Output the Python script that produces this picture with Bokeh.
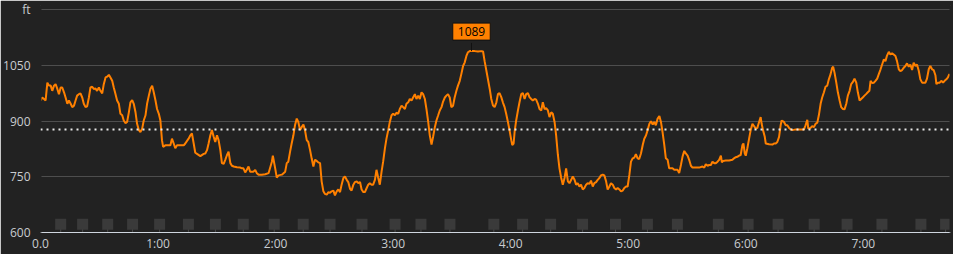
from bokeh.plotting import figure
from bokeh.models import FixedTicker, Label, Span, Range1d, LinearAxis
from bokeh.embed import file_html
from bokeh.resources import INLINE

# ---- data (time in minutes, elevation in feet) ----
minutes = [
    0.0, 0.9, 1.8, 2.6, 3.5, 4.3, 5.2, 6.0, 6.9, 7.7, 8.6, 9.4, 10.3, 11.1, 12.0, 12.8, 13.7, 14.5, 15.4, 16.2,
    17.1, 17.9, 18.7, 19.6, 20.4, 21.3, 22.1, 23.0, 23.8, 24.7, 25.5, 26.4, 27.2, 28.1, 28.9, 29.8, 30.6, 31.5,
    32.3, 33.2, 34.0, 34.9, 35.7, 36.6, 37.4, 38.3, 39.1, 40.0, 40.8, 41.7, 42.5, 43.4, 44.2, 45.1, 45.9, 46.8,
    47.6, 48.5, 49.3, 50.2, 51.0, 51.9, 52.7, 53.6, 54.4, 55.3, 56.1, 57.0, 57.8, 58.7, 59.5, 60.4, 61.2, 62.0,
    62.6, 63.7, 65.4, 66.3, 67.1, 68.0, 68.8, 69.7, 71.4, 73.1, 73.9, 74.8, 75.6, 76.5, 77.3, 78.2, 79.0, 79.9,
    81.6, 83.3, 84.1, 85.0, 85.8, 86.7, 87.5, 88.4, 89.2, 90.1, 90.9, 91.8, 92.6, 93.5, 94.3, 95.2, 96.0, 96.9,
    97.7, 98.6, 100.3, 102.0, 102.8, 103.6, 104.5, 105.3, 106.2, 107.0, 107.9, 108.7, 109.6, 110.4, 111.3, 113.0,
    114.7, 116.4, 118.1, 118.6, 119.8, 120.6, 121.5, 123.2, 124.9, 125.7, 126.5, 127.4, 128.2, 129.1, 129.9,
    130.8, 131.6, 132.5, 133.3, 134.2, 135.0, 135.9, 136.7, 137.6, 138.4, 139.3, 140.1, 141.0, 141.8, 142.7,
    143.5, 144.4, 145.2, 146.1, 147.0, 147.8, 148.6, 149.5, 150.3, 151.2, 152.0, 152.9, 153.7, 154.6, 155.4,
    156.3, 157.1, 158.0, 158.8, 159.7, 160.5, 161.4, 162.2, 163.1, 163.9, 164.8, 165.6, 166.5, 167.3, 168.1,
    169.0, 169.8, 170.7, 171.5, 172.4, 173.2, 174.1, 174.9, 175.8, 176.6, 177.5, 178.3, 179.2, 180.0, 180.9,
    181.7, 182.6, 183.4, 184.3, 185.1, 186.0, 186.8, 187.7, 188.5, 189.4, 190.2, 191.1, 191.9, 192.8, 193.6,
    194.5, 195.3, 196.2, 197.0, 197.9, 198.7, 199.6, 200.4, 201.3, 202.1, 203.0, 203.8, 204.7, 205.5, 206.4,
    207.2, 208.0, 208.9, 209.7, 210.6, 211.4, 212.3, 213.1, 214.0, 214.8, 215.7, 216.5, 217.4, 218.2, 219.1,
    219.9, 221.6, 223.3, 225.0, 225.9, 226.7, 227.6,
    229.3, 230.1, 231.0, 231.8, 232.7, 233.5, 234.3, 235.2, 236.0, 236.9, 237.7, 238.6, 239.4, 240.3, 240.8,
    241.5, 242.0, 242.8, 243.7, 244.5, 245.4, 246.2, 247.1, 247.9, 248.8, 249.6, 250.5, 251.3, 252.2, 253.0,
    253.9, 254.7, 255.6, 256.4, 257.3, 258.1, 259.0, 259.8, 260.7, 261.5, 262.4, 263.2, 264.1, 264.9, 265.8,
    266.6, 267.5, 268.3, 269.2, 270.0, 270.9, 271.7, 272.6, 273.4, 274.2, 275.1, 275.9, 276.8, 277.6, 278.5,
    279.3, 280.2, 281.0, 281.9, 282.7, 283.6, 284.4, 285.3, 286.1, 287.0, 287.8, 288.7, 289.5, 290.4, 291.2,
    292.1, 292.9, 293.8, 294.6, 295.5, 296.3, 297.2, 298.0, 298.9, 299.7, 300.6, 301.4, 302.3, 303.1, 303.9,
    304.8, 305.6, 306.5, 307.4, 308.2, 309.1, 309.9, 310.8, 311.6, 312.5, 313.3, 314.1, 315.0, 315.9, 316.7,
    317.5, 318.4, 319.2, 320.1, 320.9, 321.8, 322.6, 323.5, 324.3, 325.2, 326.0, 326.9, 327.7, 328.6, 329.4,
    330.3, 331.1, 332.0, 332.8, 334.5, 336.2, 337.9, 338.8, 339.6, 340.5, 341.3, 342.2, 343.0, 343.9, 344.7,
    345.6, 346.4, 347.3,
    347.8, 348.4, 349.8, 351.5, 353.2, 354.0, 354.9, 355.7, 356.6, 357.4, 358.3, 358.8, 359.5, 360.0, 360.8,
    361.7, 362.5, 363.4, 364.2, 365.1, 365.9, 366.8, 367.6, 368.1, 368.8, 369.7, 370.2, 371.9, 373.6, 374.4,
    375.3, 376.1, 377.0, 377.8, 378.3, 379.5, 380.4, 381.2, 382.1, 382.9, 383.8, 385.5, 387.2, 388.8, 389.7,
    390.5, 391.4, 391.9, 393.1, 393.9, 394.8, 395.6, 396.5, 397.3, 398.2, 399.0, 399.9, 400.7, 401.6, 402.4,
    403.3, 404.1, 404.6, 405.3, 406.2, 407.0, 407.9, 408.7, 409.6, 410.4, 411.3, 412.1, 413.0, 413.8, 414.7,
    415.5, 416.4, 417.2, 418.1, 418.9, 419.7, 420.6, 421.4, 422.3, 423.1, 423.7, 424.5, 425.4, 426.2, 427.1,
    427.9, 428.8, 429.6, 430.5, 431.3, 432.1, 433.0, 433.8, 434.7, 435.5, 436.4, 437.2, 438.1, 438.9, 439.8,
    440.6, 441.5, 442.3, 443.2, 444.0, 444.9, 445.7, 446.6, 447.4, 448.3, 449.1, 450.0, 451.7, 452.5, 453.4,
    454.2, 455.1, 455.9, 456.8, 457.3, 458.1, 459.0, 459.8, 460.7, 461.5, 462.4, 463.2, 463.9, 464.4,
]
elevation_ft = [
    956, 964, 960, 956, 1004, 996, 996, 982, 996, 1000, 987, 973, 991, 991, 978, 964, 947, 956, 947, 938,
    942, 956, 969, 973, 975, 964, 947, 938, 940, 964, 991, 993, 987, 988, 982, 991, 982, 975,
    1000, 1018, 1020, 1025, 1018, 1009, 991, 973, 956, 947, 920, 916, 902, 895, 898, 924, 951, 957,
    947, 924, 893, 876, 871, 880, 902, 916, 947, 969, 987, 996, 978, 956, 933, 920, 902, 849,
    831, 835, 835, 835, 853, 840, 827, 835, 835, 835, 840, 847, 853, 862, 867, 840, 815, 812,
    806, 812, 813, 822, 840, 862, 876, 858, 844, 862, 849, 822, 787, 785, 796, 809, 818, 787,
    780, 778, 776, 775, 773, 773, 762, 769, 778, 764, 764, 764, 769, 760, 756, 756,
    757, 760, 791, 807, 773, 748, 754, 756, 764, 787, 791, 818, 840, 862, 889,
    907, 898, 876, 884, 891, 876, 849, 844, 822, 800, 778, 796, 793, 789, 787,
    738, 711, 704, 702, 709, 707, 711, 713, 700, 711, 716, 709, 729, 747, 751,
    742, 736, 718, 713, 729, 736, 738, 733, 736, 716, 709, 709, 720, 729, 733,
    729, 729, 742, 769, 747, 729, 764, 791, 827, 853, 876, 898, 916, 920, 916,
    923, 920, 933, 942, 938, 933, 947, 951, 960, 956, 964, 973, 960, 969, 960,
    978, 973, 960, 933, 898, 862, 837, 858, 884, 902, 916, 929, 938, 953, 964,
    969, 973, 964, 938, 942, 964, 982, 996, 1009, 1027, 1049, 1058, 1076, 1086, 1089,
    1089, 1089, 1088, 1089, 1088, 1062, 1036,
    987, 960, 942, 938, 951, 973, 976, 965, 951, 938, 920, 898, 876, 849, 836,
    840, 871, 902, 929, 951, 973, 976, 960, 973, 976, 965, 960, 956, 960, 958,
    947, 933, 929, 951, 933, 935, 929, 911, 924, 920, 898, 862, 809, 773, 747,
    729, 747, 773, 738, 733, 742, 751, 742, 729, 733, 724, 729, 716, 720, 729,
    733, 731, 740, 724, 733, 736, 742, 747, 754, 756, 754, 738, 716, 724, 733,
    729, 720, 716, 720, 716, 711, 713, 720, 724, 724, 756, 791, 800, 802, 811,
    800, 798, 813, 836, 853, 862, 876, 893, 900, 891, 898, 889, 907, 914, 898,
    871, 836, 800, 796, 773, 773, 773, 769, 769, 769, 760, 782, 804, 820, 813,
    807, 796, 780, 775, 775, 775, 778, 775, 784, 780, 782, 782, 791, 787, 787,
    791, 796, 807,
    789, 793, 794, 794, 796, 800, 803, 804, 807, 809, 836, 840, 813, 807, 827,
    853, 876, 893, 887, 880, 882, 898, 911, 893, 876, 858, 840, 838, 837, 840,
    840, 844, 858, 889, 902, 898, 889, 889, 882, 878, 876, 878, 878, 878, 878,
    889, 904, 880, 882, 887, 884, 893, 896, 916, 947, 964, 978, 993, 996, 1013,
    1027, 1044, 1047, 1031, 1004, 978, 956, 938, 933, 932, 947, 969, 982, 1000, 1006,
    1015, 1004, 978, 956, 960, 964, 969, 973, 978, 982, 1009, 1003, 1004, 1009, 1015,
    1027, 1040, 1053, 1067, 1062, 1077, 1087, 1080, 1083, 1080, 1076, 1062, 1040, 1035, 1038,
    1044, 1049, 1056, 1047, 1053, 1038, 1058, 1049, 1053, 1036, 1013, 1004, 1004, 1015, 1040,
    1049, 1040, 1038, 1024, 1000, 1004, 1004, 1009, 1004, 1009, 1013, 1018, 1027, 1022,
]
lap_marks_min = [10.3, 21.5, 34.3, 47.0, 60.8, 75.5, 89.3, 103.5, 119.3, 134.1, 147.8, 164.1, 181.0, 194.2,
                 209.0, 231.4, 246.1, 260.4, 276.7, 293.5, 309.8, 325.1, 346.0, 361.2, 376.5, 394.9, 411.7,
                 429.5, 449.4, 462.0]
avg_elevation_ft = 878
peak_min = 220
peak_ft = 1089
x_ticks = [0, 60, 120, 180, 240, 300, 360, 420]
x_labels = ["0.0", "1:00", "2:00", "3:00", "4:00", "5:00", "6:00", "7:00"]
y_ticks = [600, 750, 900, 1050, 1200]
y_labels = ["600", "750", "900", "1050", "ft"]

# ---- styles ----
BG = "#222222"
GRID = "#4e4e4e"
TXT = "#c9ccd0"
ORANGE = "#ff8000"
FONT = "Open Sans"

p = figure(width=953, height=254, output_backend="svg", toolbar_location=None,
           x_range=Range1d(0, 464.5), y_range=Range1d(600, 1212),
           min_border_left=38, min_border_right=3, min_border_top=5, min_border_bottom=19,
           background_fill_color=BG, border_fill_color=BG, outline_line_color=None)

# axes
p.xaxis.ticker = FixedTicker(ticks=x_ticks)
p.xaxis.major_label_overrides = dict(zip(x_ticks, x_labels))
p.yaxis.ticker = FixedTicker(ticks=y_ticks)
p.yaxis.major_label_overrides = dict(zip(y_ticks, y_labels))
for ax in (p.xaxis[0], p.yaxis[0]):
    ax.major_tick_line_color = None
    ax.minor_tick_line_color = None
    ax.major_tick_out = 0
    ax.major_tick_in = 0
    ax.minor_tick_out = 0
    ax.minor_tick_in = 0
    ax.major_label_text_color = TXT
    ax.major_label_text_font = FONT
    ax.major_label_text_font_size = "12px"
p.xaxis.axis_line_color = "#cfd6df"
p.xaxis.axis_line_width = 1
p.xaxis.major_label_standoff = 2
# dark axis lines hide the seam at the frame edges
p.yaxis.axis_line_color = BG
p.yaxis.axis_line_width = 2
p.yaxis.major_label_standoff = 10

for side in ("right", "above"):
    edge = LinearAxis(ticker=FixedTicker(ticks=[]), axis_line_color=BG, axis_line_width=2,
                      major_tick_out=0, major_tick_in=0, minor_tick_out=0, minor_tick_in=0,
                      major_label_standoff=0, major_tick_line_color=None, minor_tick_line_color=None)
    p.add_layout(edge, side)

p.xgrid.visible = False
p.ygrid.ticker = FixedTicker(ticks=y_ticks)
p.ygrid.grid_line_color = GRID
p.ygrid.grid_line_width = 1

# lap markers
mark_y = [622.5] * len(lap_marks_min)
p.segment(x0=lap_marks_min, y0=[600] * len(lap_marks_min), x1=lap_marks_min, y1=mark_y,
          line_color="#4a4a4a", line_width=1)
p.scatter(lap_marks_min, mark_y, marker="square", size=11, fill_color="#3a3a3a", line_color=None)

# average line
p.add_layout(Span(location=avg_elevation_ft, dimension="width", line_color="#e8e8e8",
                  line_dash="2 4", line_width=2))

# elevation line
p.line(minutes, elevation_ft, line_color=ORANGE, line_width=2)

# peak callout
p.segment(x0=[peak_min], y0=[peak_ft], x1=[peak_min], y1=[peak_ft + 22], line_color="#111111", line_width=1)
p.add_layout(Label(x=peak_min, y=peak_ft, text=str(peak_ft), text_align="center", text_baseline="bottom",
                   y_offset=11, text_font=FONT, text_font_size="12px", text_color="#000000",
                   background_fill_color=ORANGE, border_line_color="#111111", border_line_width=1,
                   padding=(5, 4)))

open("out.html", "w").write(file_html(p, INLINE))
